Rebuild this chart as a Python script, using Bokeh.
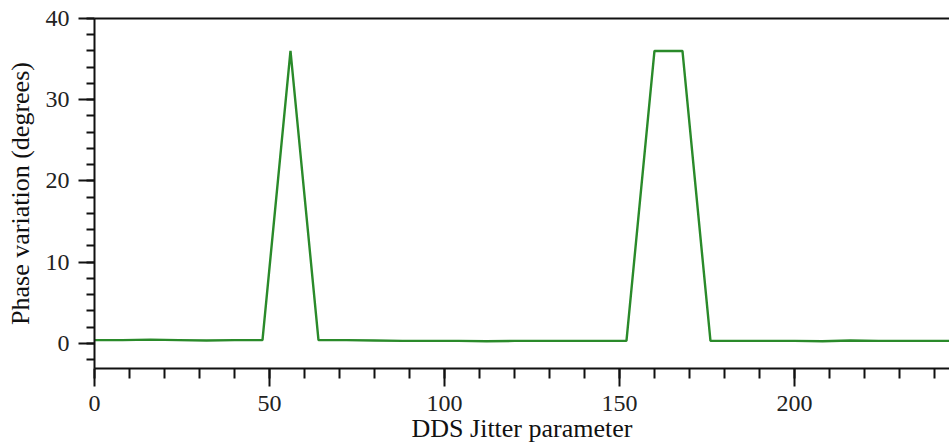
from bokeh.plotting import figure
from bokeh.models import LinearAxis, SingleIntervalTicker, FixedTicker, Range1d
from bokeh.embed import file_html
from bokeh.resources import INLINE

# DDS jitter parameter sweep and the measured phase variation
jitter = [0, 8, 16, 24, 32, 40, 48, 56, 64, 72, 80, 88, 96, 104, 112, 120,
          128, 136, 144, 152, 160, 168, 176, 184, 192, 200, 208, 216, 224,
          232, 240, 248]
phase_deg = [0.4, 0.4, 0.45, 0.4, 0.35, 0.4, 0.4, 36.0, 0.4, 0.4, 0.35, 0.3,
             0.3, 0.3, 0.25, 0.3, 0.3, 0.3, 0.3, 0.3, 36.0, 36.0, 0.3, 0.3,
             0.3, 0.3, 0.25, 0.35, 0.3, 0.3, 0.3, 0.3]

x_ticks_interval = 50
y_ticks_interval = 10

SERIF = "Liberation Serif"

p = figure(width=949, height=448, output_backend="svg", toolbar_location=None,
           x_range=Range1d(0, 244.3), y_range=Range1d(-3.1, 40),
           x_axis_type=None, y_axis_type=None,
           min_border_left=94, min_border_right=0, min_border_top=18,
           min_border_bottom=80)
p.outline_line_color = None
p.grid.visible = False
p.background_fill_color = "white"
p.border_fill_color = "white"

xaxis = LinearAxis(ticker=SingleIntervalTicker(interval=x_ticks_interval, num_minor_ticks=5),
                   axis_label="DDS Jitter parameter")
yaxis = LinearAxis(ticker=SingleIntervalTicker(interval=y_ticks_interval, num_minor_ticks=5),
                   axis_label="Phase variation (degrees)")
# plain frame line along the top edge, no ticks or labels
top = LinearAxis(ticker=FixedTicker(ticks=[], minor_ticks=[]))

for ax in (xaxis, yaxis):
    ax.axis_line_color = "#111111"
    ax.axis_line_width = 2
    ax.major_tick_line_color = "#111111"
    ax.major_tick_line_width = 2
    ax.minor_tick_line_color = "#111111"
    ax.minor_tick_line_width = 2
    ax.major_tick_in = 0
    ax.minor_tick_in = 0
    ax.major_label_text_font = SERIF
    ax.major_label_text_font_size = "24px"
    ax.major_label_text_color = "#222222"
    ax.axis_label_text_font = SERIF
    ax.axis_label_text_font_size = "26px"
    ax.axis_label_text_font_style = "normal"
    ax.axis_label_text_color = "#111111"

xaxis.major_tick_out = 18
xaxis.minor_tick_out = 10
xaxis.major_label_standoff = 9
xaxis.axis_label_standoff = 0

yaxis.major_tick_out = 16
yaxis.minor_tick_out = 8
yaxis.major_label_standoff = 9
yaxis.axis_label_standoff = 8

top.axis_line_color = "#111111"
top.axis_line_width = 2
top.major_tick_line_color = None
top.minor_tick_line_color = None
top.major_tick_out = 0
top.minor_tick_out = 0
top.major_label_standoff = 0

p.add_layout(xaxis, "below")
p.add_layout(yaxis, "left")
p.add_layout(top, "above")

p.line(jitter, phase_deg, line_color="#2a8a2a", line_width=2.4)

open("out.html", "w").write(file_html(p, INLINE))
